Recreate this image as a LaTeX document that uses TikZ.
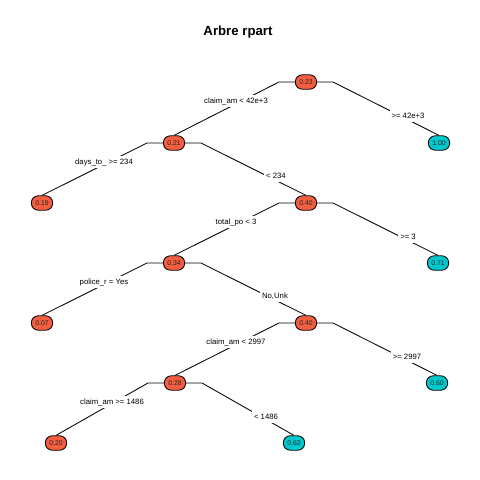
\documentclass[tikz,border=0pt]{standalone}
\usepackage{fontspec}
\setmainfont{Liberation Sans}
\definecolor{redbox}{RGB}{243,93,64}
\definecolor{cyanbox}{RGB}{0,200,204}

\begin{document}
\begin{tikzpicture}[x=0.025cm,y=-0.025cm,semithick]
  \tikzstyle{box}=[rectangle,rounded corners=0.17cm,draw=black,text=black!85,inner sep=0pt,
                   minimum width=0.53cm,minimum height=0.36cm,font=\fontsize{4.9}{5}\selectfont]
  \tikzstyle{lo}=[box,fill=redbox]
  \tikzstyle{hi}=[box,fill=cyanbox]
  \tikzstyle{split}=[fill=white,inner xsep=0.05cm,inner ysep=0.07cm,font=\fontsize{5.5}{6}\selectfont]

  \useasboundingbox (0,0) rectangle (480,480);
  \node[font=\bfseries\fontsize{9.4}{11}\selectfont] (T) at (238,32) {Arbre rpart};

  \node[lo] (A) at (306,82)  {0.23};
  \node[lo] (B) at (174,143) {0.21};
  \node[hi] (C) at (439,143) {1.00};
  \node[lo] (D) at (42,203)  {0.19};
  \node[lo] (E) at (306,203) {0.40};
  \node[hi] (F) at (438,263) {0.71};
  \node[lo] (G) at (174,263) {0.34};
  \node[lo] (H) at (42,323)  {0.07};
  \node[lo] (I) at (306,323) {0.40};
  \node[hi] (J) at (437,383) {0.60};
  \node[lo] (K) at (175,383) {0.28};
  \node[lo] (L) at (56,443)  {0.20};
  \node[hi] (M) at (294,443) {0.62};

  \coordinate (Al) at (279,82);  \coordinate (Ar) at (333,82);
  \coordinate (Bl) at (147,143); \coordinate (Br) at (201,143);
  \coordinate (El) at (279,203); \coordinate (Er) at (333,203);
  \coordinate (Gl) at (147,263); \coordinate (Gr) at (201,263);
  \coordinate (Il) at (279,323); \coordinate (Ir) at (333,323);
  \coordinate (Kl) at (148,383); \coordinate (Kr) at (202,383);

  \draw (A.west) -- (Al) -- (B.north);
  \draw (A.east) -- (Ar) -- (C.north);
  \draw (B.west) -- (Bl) -- (D.north);
  \draw (B.east) -- (Br) -- (E.north);
  \draw (E.west) -- (El) -- (G.north);
  \draw (E.east) -- (Er) -- (F.north);
  \draw (G.west) -- (Gl) -- (H.north);
  \draw (G.east) -- (Gr) -- (I.north);
  \draw (I.west) -- (Il) -- (K.north);
  \draw (I.east) -- (Ir) -- (J.north);
  \draw (K.west) -- (Kl) -- (L.north);
  \draw (K.east) -- (Kr) -- (M.north);

  \node[split] (sA1) at (236,101) {claim\_am < 42e+3};
  \node[split] (sA2) at (408,116) {>= 42e+3};
  \node[split] (sB1) at (104,162) {days\_to\_ >= 234};
  \node[split] (sB2) at (276,176) {< 234};
  \node[split] (sE1) at (236,222) {total\_po < 3};
  \node[split] (sE2) at (408,237) {>= 3};
  \node[split] (sG1) at (104,282) {police\_r = Yes};
  \node[split] (sG2) at (275,296) {No,Unk};
  \node[split] (sI1) at (236,342) {claim\_am < 2997};
  \node[split] (sI2) at (407,357) {>= 2997};
  \node[split] (sK1) at (112,402) {claim\_am >= 1486};
  \node[split] (sK2) at (266,417) {< 1486};
\end{tikzpicture}
\end{document}
